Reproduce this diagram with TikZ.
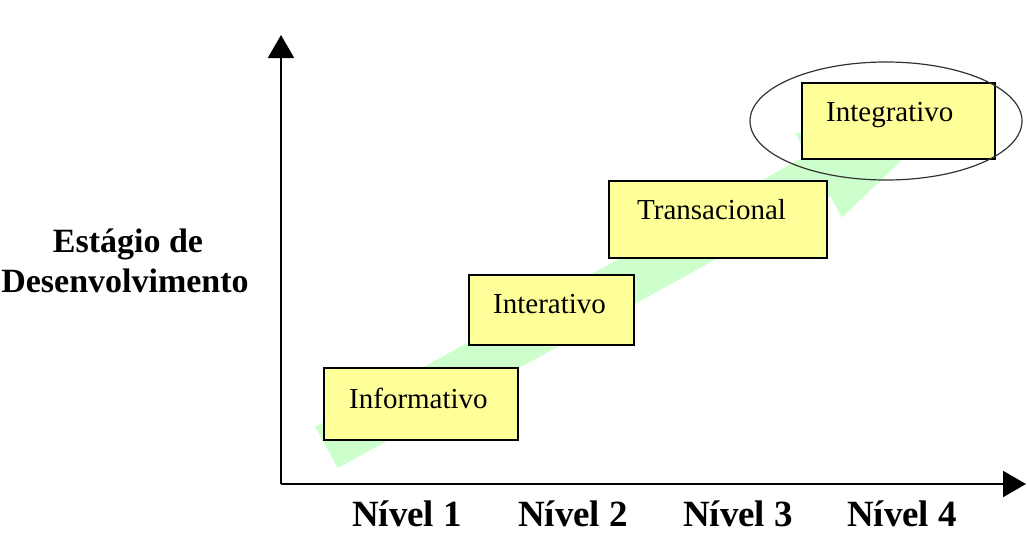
\documentclass[tikz,border=0pt]{standalone}
\usepackage{fontspec}
\setmainfont{Liberation Serif}
\usetikzlibrary{arrows.meta,calc}
\definecolor{boxyellow}{RGB}{255,255,153}
\definecolor{bandgreen}{RGB}{204,255,204}
\begin{document}
\begin{tikzpicture}[x=1pt,y=-1pt,
  box/.style={draw=black, line width=1.5pt, fill=boxyellow, inner sep=0pt, anchor=north west},
  lbl/.style={font=\fontsize{29}{34}\selectfont, anchor=base west, inner sep=0pt},
  lvl/.style={font=\bfseries\fontsize{37}{40}\selectfont, anchor=base, inner sep=0pt},
  ylbl/.style={font=\bfseries\fontsize{34}{37}\selectfont, anchor=base, inner sep=0pt},
  axisline/.style={line width=2pt, -{Triangle[width=26pt,length=23pt]}}]
\useasboundingbox (0,0) rectangle (1027,533);

% green band arrow
\fill[bandgreen] (315.1,426.9) -- (807.4,154.9) -- (795.6,133.5) -- (976.5,88.4)
  -- (842.0,217.5) -- (830.2,196.1) -- (337.9,468.1) -- cycle;

% axes
\coordinate (origin) at (281,484);
\coordinate (ytip) at (281,35);
\coordinate (xtip) at (1026,484);
\draw[axisline] (origin) -- (ytip);
\draw[axisline] (origin) -- (xtip);

% boxes
\node[box, minimum width=194pt, minimum height=72pt] (b1) at (323,367) {};
\node[box, minimum width=165pt, minimum height=70pt] (b2) at (468,274) {};
\node[box, minimum width=218pt, minimum height=77pt] (b3) at (608,180) {};
\node[box, minimum width=193pt, minimum height=76pt] (b4) at (801,82) {};

\node[lbl] (t1) at (349,408) {Informativo};
\node[lbl] (t2) at (493,313) {Interativo};
\node[lbl] (t3) at (637,219) {Transacional};
\node[lbl] (t4) at (826,121) {Integrativo};

% ellipse highlight
\draw[black!80, line width=1.2pt] (886,121) ellipse [x radius=136, y radius=59];

% axis labels
\node[ylbl] (ylab1) at (128,252) {Estágio de};
\node[ylbl] (ylab2) at (125,292) {Desenvolvimento};

\node[lvl] (n1) at (407,526) {Nível 1};
\node[lvl] (n2) at (573,526) {Nível 2};
\node[lvl] (n3) at (738,526) {Nível 3};
\node[lvl] (n4) at (902,526) {Nível 4};
\end{tikzpicture}
\end{document}
